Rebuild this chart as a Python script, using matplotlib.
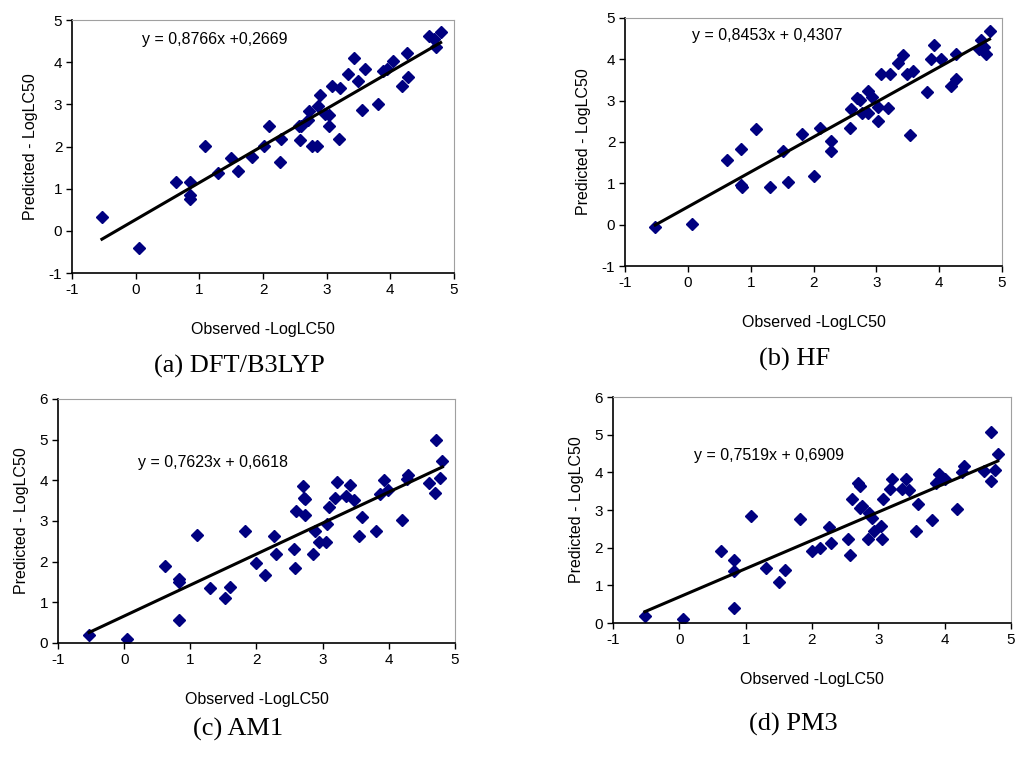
import numpy as np
from matplotlib import pyplot as plt

plt.rcParams['font.family'] = ['Liberation Sans', 'DejaVu Sans']
plt.rcParams['axes.unicode_minus'] = False

# panel (a) DFT/B3LYP
obs_a = [-0.53, 0.06, 0.63, 0.86, 0.86, 0.86, 1.09, 1.30, 1.50, 1.61, 1.82, 2.02, 2.10,
         2.27, 2.28, 2.56, 2.60, 2.58, 2.71, 2.73, 2.77, 2.85, 2.87, 2.90, 2.97, 3.04,
         3.04, 3.08, 3.21, 3.20, 3.34, 3.43, 3.49, 3.55, 3.60, 3.81, 3.88, 3.94, 4.04,
         4.19, 4.26, 4.28, 4.61, 4.68, 4.71, 4.79]
pred_a = [0.34, -0.40, 1.16, 1.16, 0.84, 0.76, 2.02, 1.37, 1.73, 1.42, 1.75, 2.02, 2.48,
          1.64, 2.17, 2.48, 2.48, 2.15, 2.64, 2.84, 2.02, 2.02, 2.96, 3.22, 2.78, 2.74,
          2.48, 3.44, 3.39, 2.17, 3.73, 4.11, 3.55, 2.86, 3.85, 3.02, 3.80, 3.85, 4.03,
          3.44, 4.21, 3.65, 4.63, 4.55, 4.37, 4.72]

# panel (b) HF
obs_b = [-0.52, 0.06, 0.62, 0.84, 0.84, 0.86, 1.09, 1.30, 1.51, 1.59, 1.81, 2.00, 2.11,
         2.28, 2.28, 2.58, 2.60, 2.69, 2.74, 2.77, 2.86, 2.87, 2.93, 3.03, 3.03, 3.08,
         3.21, 3.18, 3.35, 3.42, 3.49, 3.59, 3.54, 3.81, 3.87, 3.91, 4.03, 4.18, 4.27,
         4.26, 4.63, 4.67, 4.71, 4.74, 4.80]
pred_b = [-0.06, 0.01, 1.56, 1.82, 0.95, 0.90, 2.31, 0.90, 1.78, 1.03, 2.20, 1.17, 2.35,
          2.02, 1.78, 2.35, 2.79, 3.07, 3.01, 2.69, 3.23, 2.69, 3.09, 2.85, 2.52, 3.65,
          3.65, 2.83, 3.90, 4.10, 3.65, 3.71, 2.16, 3.21, 4.00, 4.35, 4.00, 3.35, 3.52,
          4.14, 4.26, 4.46, 4.30, 4.14, 4.68]

# panel (c) AM1
obs_c = [-0.53, 0.05, 0.62, 0.83, 0.83, 0.83, 1.10, 1.30, 1.53, 1.60, 1.83, 2.00, 2.13,
         2.27, 2.29, 2.56, 2.58, 2.60, 2.70, 2.72, 2.73, 2.74, 2.86, 2.89, 2.94, 3.05,
         3.06, 3.09, 3.19, 3.21, 3.35, 3.41, 3.48, 3.55, 3.60, 3.81, 3.87, 3.93, 3.99,
         4.20, 4.28, 4.29, 4.61, 4.70, 4.71, 4.77, 4.81]
pred_c = [0.20, 0.10, 1.89, 1.57, 1.49, 0.57, 2.66, 1.34, 1.10, 1.37, 2.76, 1.96, 1.68,
          2.62, 2.19, 2.30, 1.84, 3.24, 3.85, 3.57, 3.53, 3.15, 2.19, 2.76, 2.49, 2.49,
          2.93, 3.34, 3.56, 3.95, 3.61, 3.89, 3.52, 2.62, 3.11, 2.76, 3.66, 4.00, 3.77,
          3.03, 4.03, 4.13, 3.93, 3.69, 5.00, 4.06, 4.47]

# panel (d) PM3
obs_d = [-0.52, 0.05, 0.63, 0.83, 0.83, 0.83, 1.08, 1.30, 1.51, 1.60, 1.82, 2.00, 2.12,
         2.25, 2.28, 2.55, 2.58, 2.60, 2.70, 2.73, 2.73, 2.75, 2.85, 2.86, 2.90, 2.93,
         3.04, 3.05, 3.07, 3.18, 3.21, 3.35, 3.42, 3.46, 3.57, 3.60, 3.81, 3.87, 3.92,
         4.00, 4.18, 4.26, 4.29, 4.59, 4.70, 4.70, 4.76, 4.80]
pred_d = [0.19, 0.11, 1.92, 1.68, 1.37, 0.40, 2.85, 1.47, 1.10, 1.41, 2.76, 1.92, 1.99,
          2.56, 2.12, 2.22, 1.81, 3.28, 3.71, 3.64, 3.04, 3.11, 2.22, 2.91, 2.78, 2.45,
          2.58, 2.22, 3.28, 3.57, 3.82, 3.57, 3.82, 3.53, 2.45, 3.15, 2.74, 3.71, 3.95,
          3.81, 3.02, 4.01, 4.17, 4.04, 5.06, 3.78, 4.07, 4.50]

slopes = [0.8766, 0.8453, 0.7623, 0.7519]
intercepts = [0.2669, 0.4307, 0.6618, 0.6909]
equations = ['y = 0,8766x +0,2669', 'y = 0,8453x + 0,4307',
             'y = 0,7623x + 0,6618', 'y = 0,7519x + 0,6909']
captions = ['(a) DFT/B3LYP', '(b) HF', '(c) AM1', '(d) PM3']
ylims = [(-1, 5), (-1, 5), (0, 6), (0, 6)]

fig = plt.figure(figsize=(10.24, 7.62), dpi=100)

rects = [[0.0703, 0.6417, 0.3731, 0.3320],
         [0.6104, 0.6509, 0.3682, 0.3255],
         [0.0566, 0.1562, 0.3877, 0.3202],
         [0.5986, 0.1824, 0.3887, 0.2966]]
eq_pos = [(0.183, 0.925), (0.178, 0.931), (0.202, 0.738), (0.204, 0.739)]
cap_pos = [(0.234, 1 - 366 / 762), (0.776, 1 - 359 / 762),
           (0.232, 1 - 729 / 762), (0.775, 1 - 724 / 762)]

data = [(obs_a, pred_a), (obs_b, pred_b), (obs_c, pred_c), (obs_d, pred_d)]

for i, (obs, pred) in enumerate(data):
    ax = fig.add_axes(rects[i])
    obs = np.array(obs)
    ax.plot(obs, pred, 'D', color='#000080', markersize=6, linestyle='None')
    xs = np.array([obs.min(), obs.max()])
    ax.plot(xs, slopes[i] * xs + intercepts[i], color='black', linewidth=2.2)
    ax.set_xlim(-1, 5)
    ax.set_ylim(*ylims[i])
    ax.set_xticks(range(-1, 6))
    ax.set_yticks(range(ylims[i][0], ylims[i][1] + 1))
    ax.tick_params(direction='out', length=4, width=1, labelsize=11, pad=3)
    ax.spines['top'].set_color('#a0a0a0')
    ax.spines['right'].set_color('#a0a0a0')
    ax.spines['left'].set_linewidth(1.2)
    ax.spines['bottom'].set_linewidth(1.2)
    ax.set_xlabel('Observed -LogLC50', fontsize=11.5, labelpad=18)
    ax.set_ylabel('Predicted - LogLC50', fontsize=11.5, labelpad=8)
    ax.text(eq_pos[i][0], eq_pos[i][1], equations[i], transform=ax.transAxes,
            fontsize=11.5, va='center', ha='left')
    fig.text(cap_pos[i][0], cap_pos[i][1], captions[i], fontsize=19,
             family='Liberation Serif', ha='center', va='center')

plt.savefig('out.png', dpi=100)
